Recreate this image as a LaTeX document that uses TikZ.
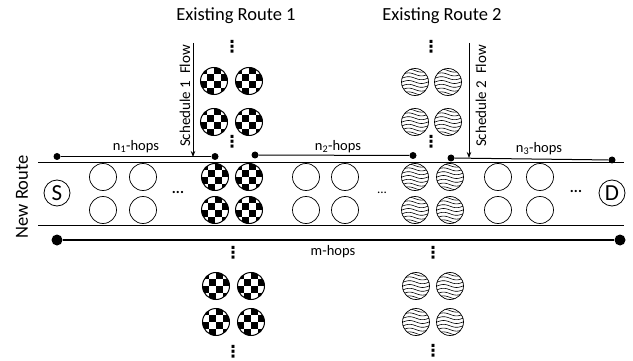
\documentclass[tikz,border=0pt]{standalone}
\usepackage{fontspec}
\setmainfont{Carlito}
\newfontfamily\symfont{DejaVu Sans}
\usetikzlibrary{arrows.meta}
\begin{document}
\begin{tikzpicture}[x=1pt,y=-1pt,
  every node/.style={inner sep=0pt, font=\fontsize{14.5}{16}\selectfont},
  title/.style={anchor=base, font=\fontsize{18.5}{20}\selectfont},
  lab/.style={anchor=base, font=\fontsize{14.5}{16}\selectfont},
  sched/.style={rotate=90, font=\fontsize{15}{16}\selectfont},
  lane/.style={line width=0.9pt},
  plainc/.style={circle, draw, line width=0.7pt, minimum size=27pt},
  chk/.style={plainc, line width=1pt, path picture={
      \foreach \i/\j in {-2/-2,0/-2,-1/-1,1/-1,-2/0,0/0,-1/1,1/1}
        \fill[shift={(path picture bounding box.center)}] (\i*7.2,\j*7.2) rectangle ++(7.2,7.2);}},
  wav/.style={plainc, path picture={
      \foreach \k in {-6,...,6}
        \draw[line width=0.6pt, shift={(path picture bounding box.center)}]
          plot[domain=-15:15, samples=31, smooth] (\x,{\k*3.8+1.5*sin(\x*360/26)});}},
  endc/.style={circle, draw, line width=0.8pt, minimum size=26pt, font=\fontsize{23}{23}\selectfont},
  dot/.style={circle, fill, minimum size=7pt},
  bigdot/.style={circle, fill, minimum size=11pt},
  vd/.style={font=\fontsize{16.5}{16.5}\symfont\bfseries},
  hd/.style={font=\fontsize{15}{16}\selectfont\bfseries},
  hdthin/.style={font=\fontsize{13}{16}\selectfont},
  hop/.style={line width=1pt},
  mhop/.style={line width=1.6pt},
  flow/.style={line width=0.8pt, -{Stealth[length=6pt,width=4.5pt]}}
]
\useasboundingbox (0,0) rectangle (633,361);

% titles
\node[title] (t1) at (236,21) {Existing Route 1};
\node[title] (t2) at (442,21) {Existing Route 2};
\node[rotate=90, font=\fontsize{18.5}{20}\selectfont] (nr) at (22,197) {New Route};

% lanes
\coordinate (lt1) at (38,162.5); \coordinate (lt2) at (624,162.5);
\coordinate (lb1) at (38,225); \coordinate (lb2) at (624,225);
\draw[lane] (lt1) -- (lt2);
\draw[lane] (lb1) -- (lb2);

% source / destination
\node[endc] (S) at (57,193) {S};
\node[endc] (D) at (612,193) {D};

% road nodes
\foreach \n/\x in {a/103,b/143,c/306,d/345,e/498,f/540}{
  \node[plainc] (r1\n) at (\x,177) {};
  \node[plainc] (r2\n) at (\x,210) {};
}
\foreach \n/\x in {a/215,b/249}{
  \node[chk] (rc1\n) at (\x,177) {};
  \node[chk] (rc2\n) at (\x,210) {};
}
\foreach \n/\x in {a/415,b/450}{
  \node[wav] (rw1\n) at (\x,177) {};
  \node[wav] (rw2\n) at (\x,210) {};
}
\node[hd] (h1) at (178,192) {...};
\node[hdthin] (h2) at (382,193) {...};
\node[hd] (h3) at (576,191) {...};

% existing route 1 (checker)
\node[chk] (u1a) at (214,81) {};  \node[chk] (u1b) at (249,81) {};
\node[chk] (u1c) at (214,122) {}; \node[chk] (u1d) at (249,122) {};
\node[chk] (l1a) at (216,286) {}; \node[chk] (l1b) at (251,286) {};
\node[chk] (l1c) at (216,322) {}; \node[chk] (l1d) at (251,322) {};
% existing route 2 (wavy)
\node[wav] (u2a) at (415,82) {};  \node[wav] (u2b) at (448,82) {};
\node[wav] (u2c) at (415,122) {}; \node[wav] (u2d) at (448,122) {};
\node[wav] (l2a) at (416,286) {}; \node[wav] (l2b) at (450,286) {};
\node[wav] (l2c) at (416,322) {}; \node[wav] (l2d) at (450,322) {};

% vertical dots
\node[vd] (v1) at (232,47) {⋮};
\node[vd] (v2) at (232,142) {⋮};
\node[vd] (v3) at (233,253) {⋮};
\node[vd] (v4) at (233,352) {⋮};
\node[vd] (v5) at (431,47) {⋮};
\node[vd] (v6) at (431,142) {⋮};
\node[vd] (v7) at (433,253) {⋮};
\node[vd] (v8) at (433,351) {⋮};

% schedule flows
\coordinate (s1a) at (193,43); \coordinate (s1b) at (193,157);
\coordinate (s2a) at (469,43); \coordinate (s2b) at (469,158);
\draw[flow] (s1a) -- (s1b);
\draw[flow] (s2a) -- (s2b);
\node[sched] (sl1) at (185,96) {Schedule 1\ \ Flow};
\node[sched] (sl2) at (481,96) {Schedule 2\ \ Flow};

% hop segments
\node[dot] (n1a) at (57,156.5) {};  \node[dot] (n1b) at (215,156.5) {};
\node[dot] (n2a) at (255,155) {};   \node[dot] (n2b) at (413,155.5) {};
\node[dot] (n3a) at (451,158) {};   \node[dot] (n3b) at (612,160) {};
\draw[hop] (n1a) -- (n1b);
\draw[hop] (n2a) -- (n2b);
\draw[hop] (n3a) -- (n3b);
\node[lab] (n1l) at (136,150.5) {n\textsubscript{1}-hops};
\node[lab] (n2l) at (338,150.5) {n\textsubscript{2}-hops};
\node[lab] (n3l) at (539,152.5) {n\textsubscript{3}-hops};

\node[bigdot] (ma) at (57,240) {}; \node[bigdot] (mb) at (620,240) {};
\draw[mhop] (ma) -- (mb);
\node[lab] (ml) at (333,255) {m-hops};
\end{tikzpicture}
\end{document}
